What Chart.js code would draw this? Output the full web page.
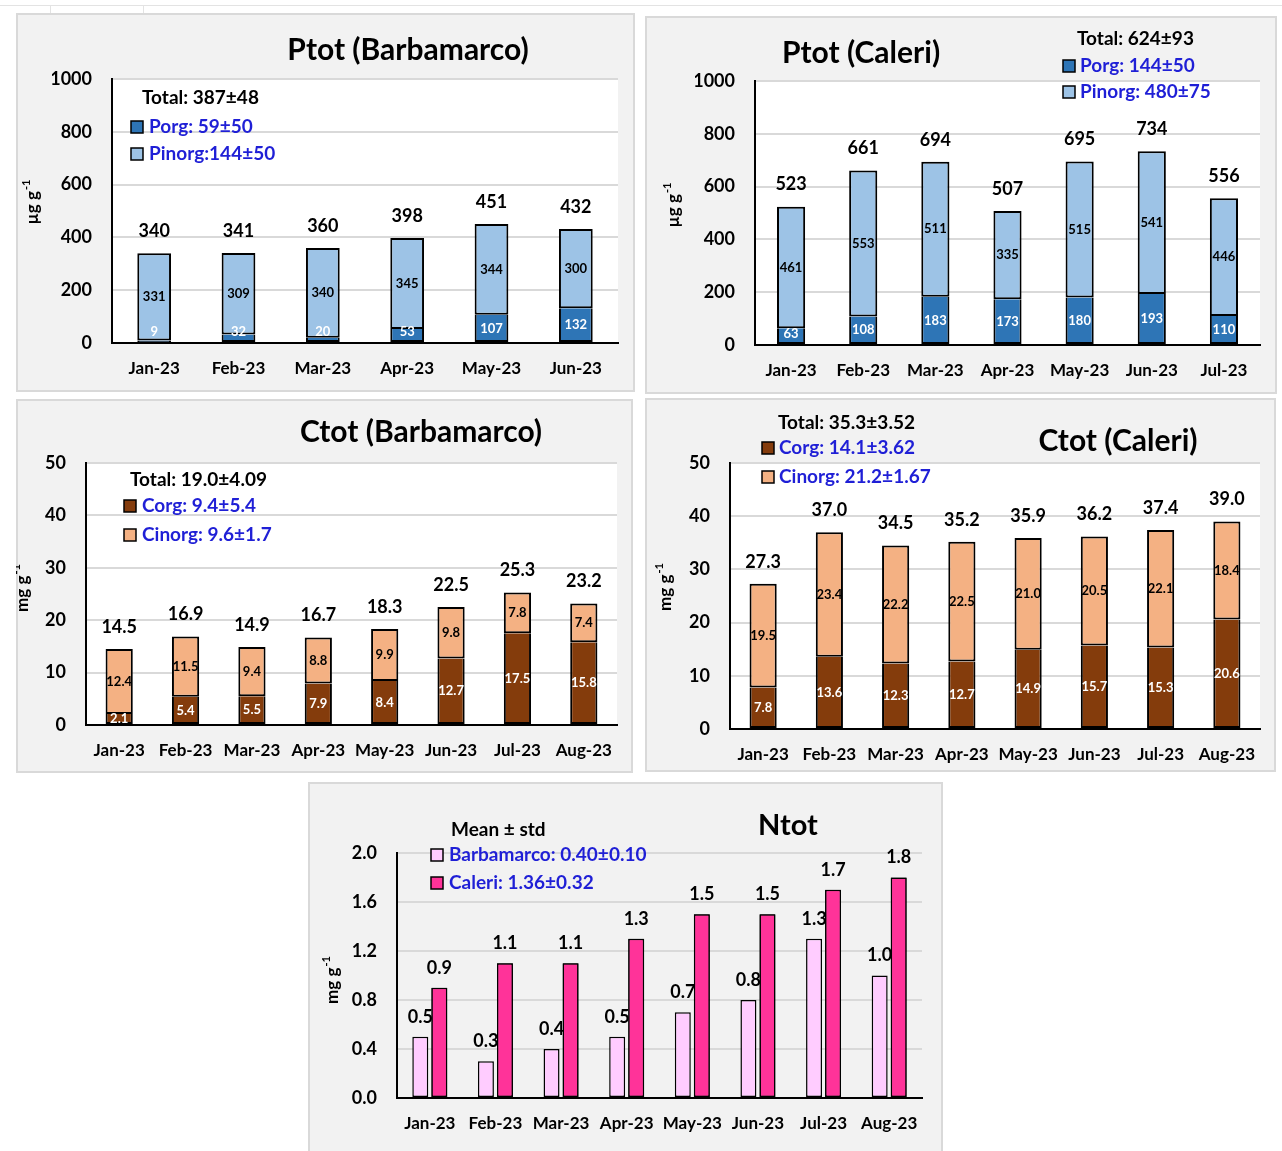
<!DOCTYPE html>
<html>
<head>
<meta charset="utf-8">
<script src="https://cdn.jsdelivr.net/npm/chart.js@4.4.0/dist/chart.umd.min.js"></script>
<style>
body { margin: 0; background: #fff; width: 1282px; height: 1151px; position: relative; overflow: hidden; font-family: Lato, sans-serif; }
.panel { position: absolute; background: #f2f2f2; border: 2px solid #d9d9d9; box-sizing: border-box; }
.panel canvas { position: absolute; left: -2px; top: -2px; }
.sheet { position: absolute; background: #e3e3e3; }
</style>
</head>
<body>
<div class="sheet" style="left:0;top:5px;width:1282px;height:1px"></div>
<div class="sheet" style="left:50px;top:5px;width:1px;height:8px"></div>
<div class="sheet" style="left:143px;top:5px;width:1px;height:8px"></div>

<div class="panel" style="left:16px;top:13px;width:619px;height:379px"><canvas id="c1"></canvas></div>
<div class="panel" style="left:645px;top:16px;width:632px;height:378px"><canvas id="c2"></canvas></div>
<div class="panel" style="left:16px;top:399px;width:617px;height:374px"><canvas id="c3"></canvas></div>
<div class="panel" style="left:645px;top:398px;width:631px;height:374px"><canvas id="c4"></canvas></div>
<div class="panel" style="left:308px;top:782px;width:635px;height:375px"><canvas id="c5"></canvas></div>

<script>
// categories
const months6 = ['Jan-23', 'Feb-23', 'Mar-23', 'Apr-23', 'May-23', 'Jun-23'];
const months7 = ['Jan-23', 'Feb-23', 'Mar-23', 'Apr-23', 'May-23', 'Jun-23', 'Jul-23'];
const months8 = ['Jan-23', 'Feb-23', 'Mar-23', 'Apr-23', 'May-23', 'Jun-23', 'Jul-23', 'Aug-23'];

// Ptot Barbamarco (µg/g)
const porgBarb = [9, 32, 20, 53, 107, 132];
const pinorgBarb = [331, 309, 340, 345, 344, 300];
const ptotBarb = [340, 341, 360, 398, 451, 432];

// Ptot Caleri (µg/g)
const porgCal = [63, 108, 183, 173, 180, 193, 110];
const pinorgCal = [461, 553, 511, 335, 515, 541, 446];
const ptotCal = [523, 661, 694, 507, 695, 734, 556];

// Ctot Barbamarco (mg/g)
const corgBarb = [2.1, 5.4, 5.5, 7.9, 8.4, 12.7, 17.5, 15.8];
const cinorgBarb = [12.4, 11.5, 9.4, 8.8, 9.9, 9.8, 7.8, 7.4];
const ctotBarb = [14.5, 16.9, 14.9, 16.7, 18.3, 22.5, 25.3, 23.2];

// Ctot Caleri (mg/g)
const corgCal = [7.8, 13.6, 12.3, 12.7, 14.9, 15.7, 15.3, 20.6];
const cinorgCal = [19.5, 23.4, 22.2, 22.5, 21.0, 20.5, 22.1, 18.4];
const ctotCal = [27.3, 37.0, 34.5, 35.2, 35.9, 36.2, 37.4, 39.0];

// Ntot (mg/g)
const ntotBarb = [0.5, 0.3, 0.4, 0.5, 0.7, 0.8, 1.3, 1.0];
const ntotCal = [0.9, 1.1, 1.1, 1.3, 1.5, 1.5, 1.7, 1.8];

// tick labels
const pTicks = [0, 200, 400, 600, 800, 1000];
const cTicks = [0, 10, 20, 30, 40, 50];
const nTicks = [0, 0.4, 0.8, 1.2, 1.6, 2.0];

// legend texts
const legendP1 = ['Total: 387±48', 'Porg: 59±50', 'Pinorg:144±50'];
const legendP2 = ['Total: 624±93', 'Porg: 144±50', 'Pinorg: 480±75'];
const legendC1 = ['Total: 19.0±4.09', 'Corg: 9.4±5.4', 'Cinorg: 9.6±1.7'];
const legendC2 = ['Total: 35.3±3.52', 'Corg: 14.1±3.62', 'Cinorg: 21.2±1.67'];
const legendN = ['Mean ± std', 'Barbamarco: 0.40±0.10', 'Caleri: 1.36±0.32'];

const FONT = 'Lato, "Liberation Sans", sans-serif';
const LEG_BLUE = '#1f1fd6';

function drawYTitle(ctx, yt) {
  ctx.save();
  ctx.translate(yt.x, yt.y);
  ctx.rotate(-Math.PI / 2);
  ctx.fillStyle = '#000';
  ctx.textBaseline = 'middle';
  ctx.textAlign = 'left';
  ctx.font = 'bold 17px ' + FONT;
  const w1 = ctx.measureText(yt.main).width;
  ctx.font = 'bold 11px ' + FONT;
  const w2 = ctx.measureText('-1').width;
  const x0 = -(w1 + w2 + 1) / 2;
  ctx.font = 'bold 17px ' + FONT;
  ctx.fillText(yt.main, x0, 0);
  ctx.font = 'bold 11px ' + FONT;
  ctx.fillText('-1', x0 + w1 + 1, -7);
  ctx.restore();
}

function drawLegend(ctx, lg) {
  ctx.save();
  ctx.font = 'bold 19px ' + FONT;
  ctx.textBaseline = 'middle';
  ctx.textAlign = 'left';
  ctx.fillStyle = '#000';
  ctx.fillText(lg.texts[0], lg.tx, lg.ty);
  for (let i = 1; i < lg.texts.length; i++) {
    const y = lg.y0 + (i - 1) * lg.dy;
    ctx.fillStyle = lg.boxes[i - 1];
    ctx.fillRect(lg.bx, y - 6, 12, 12);
    ctx.lineWidth = 1.5;
    ctx.strokeStyle = '#000';
    ctx.strokeRect(lg.bx, y - 6, 12, 12);
    ctx.fillStyle = LEG_BLUE;
    ctx.fillText(lg.texts[i], lg.x, y);
  }
  ctx.restore();
}

function panelPlugin(t) {
  return {
    id: 'panelText',
    beforeDraw(chart) {
      if (!t.plotBg) return;
      const a = chart.chartArea, ctx = chart.ctx;
      ctx.save();
      ctx.fillStyle = t.plotBg;
      ctx.fillRect(a.left, a.top, a.right - a.left, a.bottom - a.top);
      ctx.restore();
    },
    afterDatasetsDraw(chart) {
      const ctx = chart.ctx;
      ctx.save();
      ctx.textAlign = 'center';
      ctx.textBaseline = 'middle';
      if (t.stacked) {
        chart.data.datasets.forEach((ds, i) => {
          const meta = chart.getDatasetMeta(i);
          ctx.font = 'bold 13px ' + FONT;
          ctx.fillStyle = ds.valueColor;
          meta.data.forEach((bar, j) => {
            let y = (bar.y + bar.base) / 2;
            y = Math.min(y, bar.base - (t.minInner || 0));
            ctx.fillText(ds.data[j].toFixed(t.dec), bar.x, y);
          });
        });
        const top = chart.getDatasetMeta(chart.data.datasets.length - 1);
        ctx.font = 'bold 18px ' + FONT;
        ctx.fillStyle = '#000';
        top.data.forEach((bar, j) => ctx.fillText(t.totals[j].toFixed(t.dec), bar.x, bar.y - 22));
      } else {
        ctx.font = 'bold 18px ' + FONT;
        ctx.fillStyle = '#000';
        const m0 = chart.getDatasetMeta(0);
        m0.data.forEach((bar, j) => ctx.fillText(chart.data.datasets[0].data[j].toFixed(1), bar.x, bar.y - 20));
        // second series is drawn over the first series' labels
        const m1 = chart.getDatasetMeta(1);
        m1.data.forEach(bar => bar.draw(ctx));
        ctx.fillStyle = '#000';
        m1.data.forEach((bar, j) => ctx.fillText(chart.data.datasets[1].data[j].toFixed(1), bar.x, bar.y - 20));
      }
      ctx.restore();
    },
    afterDraw(chart) {
      const ctx = chart.ctx;
      ctx.save();
      ctx.font = 'bold ' + (t.title.size || 30) + 'px ' + FONT;
      ctx.fillStyle = '#000';
      ctx.textAlign = 'center';
      ctx.textBaseline = 'middle';
      ctx.fillText(t.title.text, t.title.x, t.title.y);
      ctx.restore();
      drawYTitle(ctx, t.ytitle);
      drawLegend(ctx, t.legend);
    }
  };
}

function makeChart(id, t) {
  const cv = document.getElementById(id);
  cv.width = t.w; cv.height = t.h;
  cv.style.width = t.w + 'px'; cv.style.height = t.h + 'px';
  const a = t.area;
  const tickFont = { family: FONT, size: 18, weight: 'bold' };
  return new Chart(cv, {
    type: 'bar',
    data: { labels: t.labels, datasets: t.datasets },
    options: {
      responsive: false,
      animation: false,
      devicePixelRatio: 1,
      layout: { padding: { left: a.l - 60, right: t.w - a.r, top: a.t, bottom: t.h - a.b - 40 } },
      plugins: { legend: { display: false }, tooltip: { enabled: false } },
      scales: {
        x: {
          stacked: t.stacked,
          grid: { display: false },
          border: { display: true, color: '#000', width: 2 },
          ticks: { color: '#000', font: { family: FONT, size: 17, weight: 'bold' }, padding: 7, maxRotation: 0, autoSkip: false },
          afterFit: s => { s.height = 40; }
        },
        y: {
          stacked: t.stacked,
          min: t.ticks[0],
          max: t.ticks[t.ticks.length - 1],
          grid: { color: '#d9d9d9', lineWidth: 2, drawTicks: false },
          border: { display: true, color: '#000', width: 2 },
          ticks: { color: '#000', font: tickFont, padding: 20, callback: v => v.toFixed(t.tickDec) },
          afterBuildTicks: s => { s.ticks = t.ticks.map(v => ({ value: v })); },
          afterFit: s => { s.width = 60; }
        }
      }
    },
    plugins: [panelPlugin(t)]
  });
}

function stackedSets(low, high, colors, pct) {
  return [
    { data: low, backgroundColor: colors[0], borderColor: '#000',
      borderWidth: { top: 0, left: 2, right: 2, bottom: 2 }, borderSkipped: false,
      barPercentage: pct, categoryPercentage: 1, valueColor: '#fff' },
    { data: high, backgroundColor: colors[1], borderColor: '#000', borderWidth: 2, borderSkipped: false,
      barPercentage: pct, categoryPercentage: 1, valueColor: '#000' }
  ];
}

const P_COL = ['#2e75b6', '#9dc3e6'];
const C_COL = ['#843c0c', '#f4b183'];

makeChart('c1', {
  w: 619, h: 379, area: { l: 96, r: 602, t: 66, b: 330 },
  labels: months6, stacked: true, totals: ptotBarb, dec: 0, minInner: 10,
  datasets: stackedSets(porgBarb, pinorgBarb, P_COL, 0.4),
  ticks: pTicks, tickDec: 0, plotBg: '#fff',
  title: { text: 'Ptot (Barbamarco)', x: 392, y: 37 },
  ytitle: { main: 'µg g', x: 17, y: 189 },
  legend: { texts: legendP1, boxes: P_COL, tx: 126, ty: 85, bx: 115, x: 133, y0: 114, dy: 27 }
});

makeChart('c2', {
  w: 632, h: 378, area: { l: 110, r: 615, t: 65, b: 329 },
  labels: months7, stacked: true, totals: ptotCal, dec: 0, minInner: 10,
  datasets: stackedSets(porgCal, pinorgCal, P_COL, 0.39),
  ticks: pTicks, tickDec: 0, plotBg: '#fff',
  title: { text: 'Ptot (Caleri)', x: 216, y: 37 },
  ytitle: { main: 'µg g', x: 29, y: 189 },
  legend: { texts: legendP2, boxes: P_COL, tx: 432, ty: 23, bx: 418, x: 435, y0: 50, dy: 26 }
});

makeChart('c3', {
  w: 617, h: 374, area: { l: 70, r: 601, t: 64, b: 326 },
  labels: months8, stacked: true, totals: ctotBarb, dec: 1, minInner: 0,
  datasets: stackedSets(corgBarb, cinorgBarb, C_COL, 0.41),
  ticks: cTicks, tickDec: 0, plotBg: '#fff',
  title: { text: 'Ctot (Barbamarco)', x: 405, y: 33 },
  ytitle: { main: 'mg g', x: 7, y: 189 },
  legend: { texts: legendC1, boxes: C_COL, tx: 114, ty: 81, bx: 108, x: 126, y0: 107, dy: 29 }
});

makeChart('c4', {
  w: 631, h: 374, area: { l: 85, r: 615, t: 65, b: 331 },
  labels: months8, stacked: true, totals: ctotCal, dec: 1, minInner: 0,
  datasets: stackedSets(corgCal, cinorgCal, C_COL, 0.41),
  ticks: cTicks, tickDec: 0, plotBg: '#fff',
  title: { text: 'Ctot (Caleri)', x: 473, y: 43 },
  ytitle: { main: 'mg g', x: 21, y: 189 },
  legend: { texts: legendC2, boxes: C_COL, tx: 133, ty: 25, bx: 117, x: 134, y0: 50, dy: 29 }
});

const N_COL = ['#ffccff', '#ff3399'];
makeChart('c5', {
  w: 635, h: 375, area: { l: 89, r: 614, t: 71, b: 316 },
  labels: months8, stacked: false,
  datasets: [
    { data: ntotBarb, backgroundColor: N_COL[0], borderColor: '#000', borderWidth: 1.5, borderSkipped: false,
      barPercentage: 0.84, categoryPercentage: 0.58 },
    { data: ntotCal, backgroundColor: N_COL[1], borderColor: '#000', borderWidth: 1.5, borderSkipped: false,
      barPercentage: 0.84, categoryPercentage: 0.58 }
  ],
  ticks: nTicks, tickDec: 1, plotBg: null,
  title: { text: 'Ntot', x: 480, y: 44, size: 29 },
  ytitle: { main: 'mg g', x: 25, y: 198 },
  legend: { texts: legendN, boxes: N_COL, tx: 143, ty: 48, bx: 123, x: 141, y0: 73, dy: 28 }
});
</script>
</body>
</html>
